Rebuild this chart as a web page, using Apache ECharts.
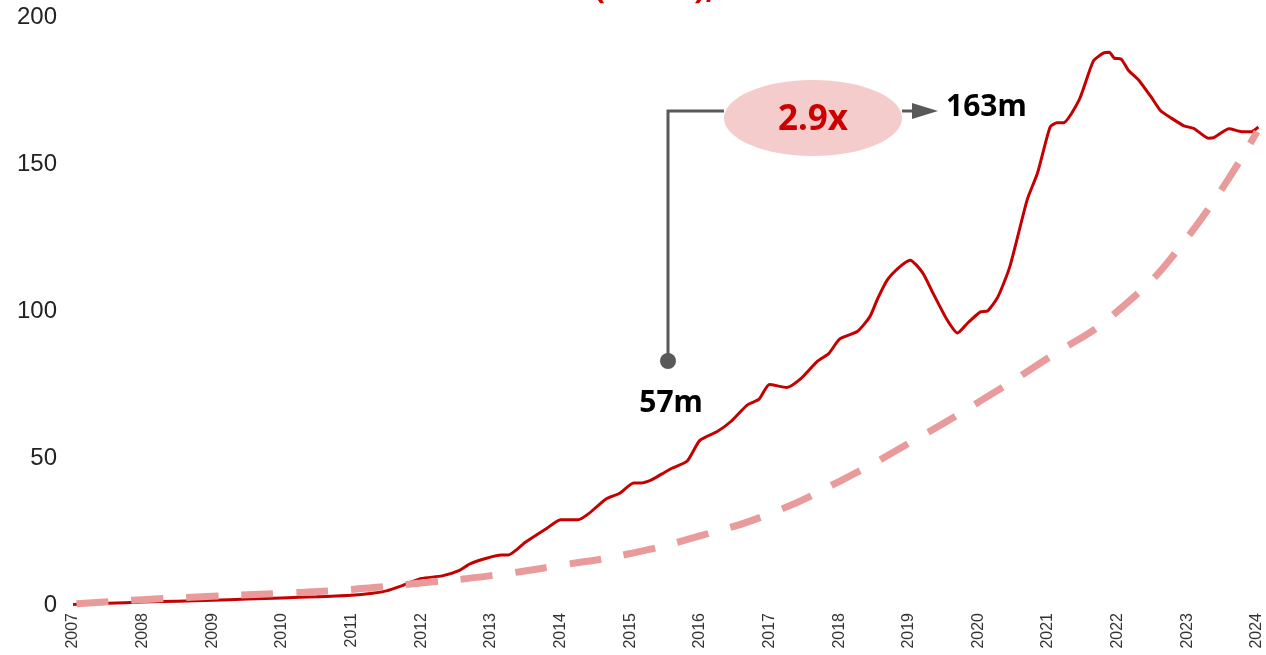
<!DOCTYPE html>
<html>
<head>
<meta charset="utf-8">
<script src="https://cdn.jsdelivr.net/npm/echarts@6/dist/echarts.min.js"></script>
<style>
html,body{margin:0;padding:0;background:#fff;}
#chart{width:1266px;height:655px;}
</style>
</head>
<body>
<div id="chart"></div>
<script>
// ---- data ----
const actualYears = [2007.0,2007.5,2008.0,2008.5,2009.0,2009.5,2010.0,2010.5,2011.0,2011.3,2011.5,2011.75,2012.0,2012.3,2012.55,2012.7,2012.95,2013.15,2013.25,2013.5,2013.8,2014.0,2014.25,2014.4,2014.65,2014.85,2015.05,2015.15,2015.3,2015.45,2015.6,2015.82,2016.0,2016.25,2016.45,2016.68,2016.85,2017.0,2017.25,2017.45,2017.68,2017.85,2018.01,2018.26,2018.44,2018.55,2018.69,2018.87,2019.02,2019.2,2019.35,2019.55,2019.7,2019.85,2020.03,2020.13,2020.28,2020.45,2020.7,2020.85,2021.03,2021.13,2021.22,2021.45,2021.65,2021.8,2021.88,2021.95,2022.05,2022.15,2022.3,2022.48,2022.62,2022.77,2022.95,2023.1,2023.3,2023.38,2023.6,2023.78,2023.92,2024.02];
const actualValues = [0.2,0.6,1.0,1.3,1.6,2.0,2.4,2.8,3.3,4.0,4.8,6.8,9.0,9.9,11.8,14.0,16.0,17.0,17.0,21.4,26.0,29.0,29.0,31.0,36.0,38.0,41.5,41.5,42.5,44.5,46.5,49.0,56.0,59.0,62.5,68.0,70.0,75.0,74.0,77.0,82.7,85.5,90.5,93.0,98.0,104.0,110.5,115.0,117.3,113.0,106.0,97.0,92.5,96.0,99.7,100.0,104.8,115.0,137.8,147.0,162.6,164.0,164.0,172.0,185.0,187.8,188.0,186.0,185.7,182.0,178.6,172.8,168.0,165.6,163.0,162.0,158.8,159.0,162.0,161.0,161.0,162.6];
const trendYears = [2007.05,2008,2009,2010,2011,2012,2013,2014,2015,2016,2017,2018,2019,2020,2021,2022,2023,2024];
const trendValues = [0.4,1.8,3.0,4.0,5.3,7.5,10.0,13.5,17.5,23.5,31.0,42.0,55.0,69.0,84.0,100.0,125.0,161.0];
const yTicks = [0,50,100,150,200];
const startLabel = '57m';
const endLabel = '163m';
const multipleLabel = '2.9x';

const chart = echarts.init(document.getElementById('chart'));
const gray = '#595959';
chart.setOption({
  animation: false,
  backgroundColor: '#fff',
  grid: {left: 73, right: 9, top: 17, bottom: 50, containLabel: false},
  xAxis: {
    type: 'value', min: 2007, max: 2024, interval: 1,
    axisLine: {show: false}, axisTick: {show: false}, splitLine: {show: false},
    axisLabel: {rotate: 90, fontSize: 16, color: '#333', fontFamily: 'Liberation Sans', margin: 8,
      formatter: v => String(v)}
  },
  yAxis: {
    type: 'value', min: yTicks[0], max: yTicks[yTicks.length-1], interval: 50,
    axisLine: {show: false}, axisTick: {show: false}, splitLine: {show: false},
    axisLabel: {fontSize: 24, color: '#222', fontFamily: 'Liberation Sans', margin: 16}
  },
  series: [
    {
      type: 'line', name: 'actual', data: actualYears.map((x,i)=>[x, actualValues[i]]),
      showSymbol: false, smooth: 0.2, z: 2,
      lineStyle: {color: '#c40000', width: 3}
    },
    {
      type: 'line', name: 'trend', data: trendYears.map((x,i)=>[x, trendValues[i]]),
      showSymbol: false, smooth: true, z: 3,
      lineStyle: {color: '#e99a9a', width: 7, type: [32, 23], cap: 'butt'}
    }
  ],
  graphic: [
    {type: 'text', left: 594, top: -28, z: 10, style: {text: '(CAGR),', font: 'bold 33px "Noto Sans"', fill: '#cc0000'}},
    {type: 'polyline', z: 10, shape: {points: [[668,361],[668,111],[724,111]]}, style: {stroke: gray, lineWidth: 3, fill: null}},
    {type: 'circle', z: 11, shape: {cx: 668, cy: 361, r: 8}, style: {fill: gray}},
    {type: 'ellipse', z: 11, shape: {cx: 813, cy: 118, rx: 89, ry: 38}, style: {fill: '#f4cccc'}},
    {type: 'text', z: 12, x: 813, y: 120, style: {text: multipleLabel, font: 'bold 35px "Noto Sans"', fill: '#cc0000', align: 'center', verticalAlign: 'middle'}},
    {type: 'line', z: 10, shape: {x1: 902, y1: 111, x2: 914, y2: 111}, style: {stroke: gray, lineWidth: 3}},
    {type: 'polygon', z: 10, shape: {points: [[912,103],[938,111],[912,119]]}, style: {fill: gray}},
    {type: 'text', z: 12, x: 946, y: 107, style: {text: endLabel, font: 'bold 30px "Noto Sans"', fill: '#000', align: 'left', verticalAlign: 'middle'}},
    {type: 'text', z: 12, x: 671, y: 403, style: {text: startLabel, font: 'bold 30px "Noto Sans"', fill: '#000', align: 'center', verticalAlign: 'middle'}}
  ]
});
</script>
</body>
</html>
